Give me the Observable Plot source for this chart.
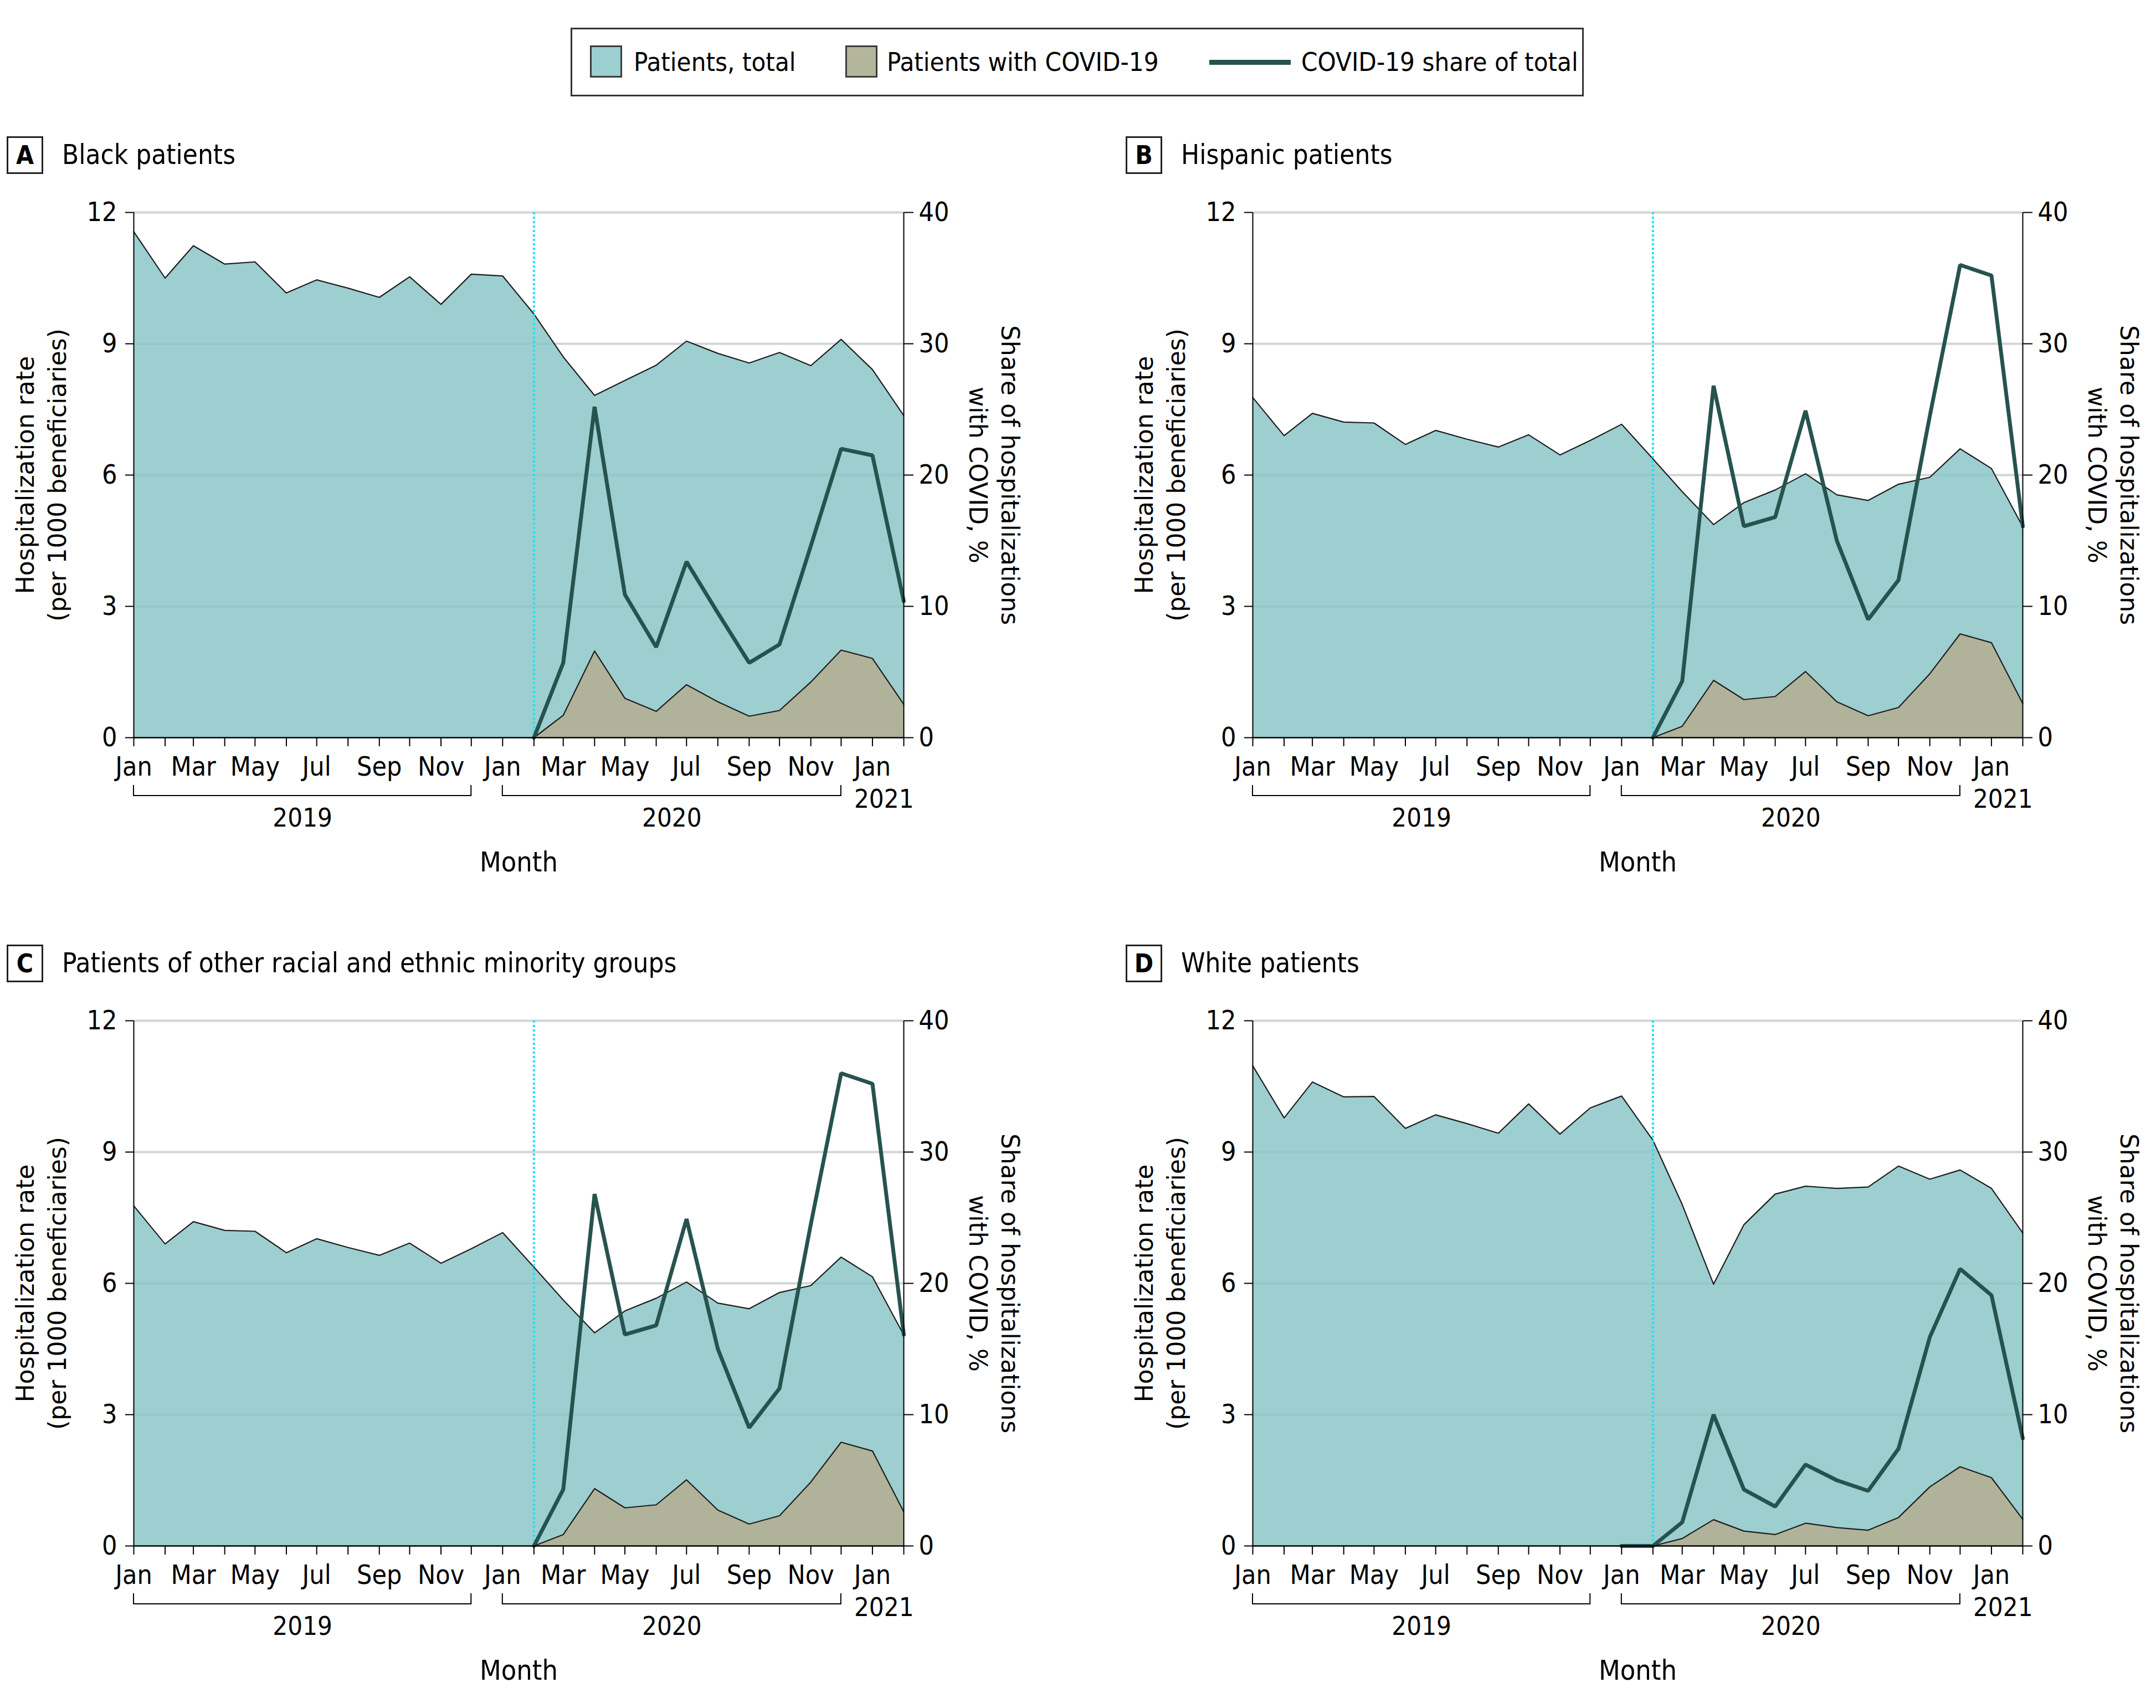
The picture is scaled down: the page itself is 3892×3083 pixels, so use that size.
<!DOCTYPE html>
<html><head><meta charset="utf-8">
<script src="https://cdn.jsdelivr.net/npm/d3@7"></script>
<script src="https://cdn.jsdelivr.net/npm/@observablehq/plot@0.6"></script>
<style>
html,body{margin:0;padding:0;background:#fff;}
body{width:3892px;height:3083px;position:relative;overflow:hidden;
  font-family:"Liberation Sans Narrow","DejaVu Sans Condensed","Liberation Sans",sans-serif;color:#000;}
.abs{position:absolute;}
.legend{left:1030px;top:50px;width:1823px;height:118px;border:3px solid #333;}
.sw{position:absolute;width:52px;height:52px;border:3px solid #3a3a3a;top:29px;}
.lt{position:absolute;top:0;line-height:118px;font-size:47px;white-space:nowrap;}
.ln{position:absolute;top:55px;height:9px;width:147px;background:#27534f;}
.pbox{position:absolute;width:60px;height:62px;border:3px solid #222;font-weight:bold;font-size:46px;line-height:62px;text-align:center;}
.ptitle{position:absolute;font-size:49px;line-height:68px;white-space:nowrap;}
.panel{position:absolute;}
</style></head>
<body>
<div class="abs legend">
  <div class="sw" style="left:32px;background:#9dced0"></div>
  <div class="lt" style="left:111px">Patients, total</div>
  <div class="sw" style="left:493px;background:#b4b69c"></div>
  <div class="lt" style="left:568px">Patients with COVID-19</div>
  <div class="ln" style="left:1150px"></div>
  <div class="lt" style="left:1316px">COVID-19 share of total</div>
</div>
<div id="chartA" class="panel" style="left:0;top:330px"></div>
<div id="chartB" class="panel" style="left:2020px;top:330px"></div>
<div id="chartC" class="panel" style="left:0;top:1789px"></div>
<div id="chartD" class="panel" style="left:2020px;top:1789px"></div>
<script>
// ---------- data ----------
const monthKeys = ["2019-01","2019-02","2019-03","2019-04","2019-05","2019-06","2019-07","2019-08","2019-09","2019-10","2019-11","2019-12",
  "2020-01","2020-02","2020-03","2020-04","2020-05","2020-06","2020-07","2020-08","2020-09","2020-10","2020-11","2020-12",
  "2021-01","2021-02"];
const monthAbbr = ["Jan","Feb","Mar","Apr","May","Jun","Jul","Aug","Sep","Oct","Nov","Dec"];
const leftTicks = [0, 3, 6, 9, 12];
const rightTicks = [0, 10, 20, 30, 40];
const yearSpans = [
  {label: "2019", start: "2019-01", end: "2019-12"},
  {label: "2020", start: "2020-01", end: "2020-12"}
];
const lastYearLabel = {label: "2021", at: "2021-01"};
const pandemicStart = "2020-02";
const panelLetters = ["A", "B", "C", "D"];
const panelTitles = ["Black patients", "Hispanic patients", "Patients of other racial and ethnic minority groups", "White patients"];
const leftTitle = "Hospitalization rate\n(per 1000 beneficiaries)";
const rightTitle = "Share of hospitalizations\nwith COVID, %";
const xTitle = "Month";

// A: Black patients
const blackTotal = [11.56,10.50,11.24,10.82,10.87,10.16,10.46,10.27,10.06,10.53,9.90,10.59,10.55,9.68,8.70,7.82,8.16,8.51,9.06,8.78,8.56,8.80,8.50,9.10,8.41,7.36];
const blackCovid = [null,null,null,null,null,null,null,null,null,null,null,null,null,0,0.51,1.98,0.90,0.60,1.21,0.82,0.49,0.62,1.27,2.00,1.81,0.76];
const blackShare = [null,null,null,null,null,null,null,null,null,null,null,null,null,0,5.7,25.2,10.9,6.9,13.4,9.5,5.7,7.1,14.6,22.0,21.5,10.4];
// B: Hispanic patients
const hispTotal = [7.77,6.90,7.41,7.21,7.19,6.70,7.02,6.82,6.64,6.92,6.46,6.79,7.16,6.37,5.62,4.87,5.37,5.66,6.03,5.55,5.42,5.79,5.95,6.60,6.15,4.82];
const hispCovid = [null,null,null,null,null,null,null,null,null,null,null,null,null,0,0.26,1.31,0.87,0.94,1.51,0.82,0.50,0.69,1.46,2.37,2.17,0.78];
const hispShare = [null,null,null,null,null,null,null,null,null,null,null,null,null,0,4.3,26.8,16.1,16.8,24.9,15.0,9.0,12.0,24.5,36.0,35.2,16.1];
// C: Other racial and ethnic minority groups
const otherTotal = [7.77,6.90,7.41,7.21,7.19,6.70,7.02,6.82,6.64,6.92,6.46,6.79,7.16,6.37,5.62,4.87,5.37,5.66,6.03,5.55,5.42,5.79,5.95,6.60,6.15,4.82];
const otherCovid = [null,null,null,null,null,null,null,null,null,null,null,null,null,0,0.26,1.31,0.87,0.94,1.51,0.82,0.50,0.69,1.46,2.37,2.17,0.78];
const otherShare = [null,null,null,null,null,null,null,null,null,null,null,null,null,0,4.3,26.8,16.1,16.8,24.9,15.0,9.0,12.0,24.5,36.0,35.2,16.1];
// D: White patients
const whiteTotal = [10.97,9.78,10.60,10.26,10.27,9.54,9.85,9.65,9.43,10.10,9.41,10.01,10.28,9.27,7.80,5.98,7.34,8.04,8.22,8.17,8.20,8.68,8.38,8.59,8.17,7.15];
const whiteCovid = [null,null,null,null,null,null,null,null,null,null,null,null,null,0,0.17,0.60,0.34,0.26,0.52,0.42,0.36,0.65,1.35,1.81,1.56,0.61];
const whiteShare = [null,null,null,null,null,null,null,null,null,null,null,null,0,0,1.8,10.0,4.3,3.0,6.2,5.0,4.2,7.4,15.9,21.1,19.1,8.2];

// ---------- style ----------
const TEAL = "#9dced0", KHAKI = "#b0b39a", LINE = "#27534f", EDGE = "#1e1e1e";
const TICK_FONT = '"Liberation Sans Narrow","DejaVu Sans Condensed","Liberation Sans",sans-serif';
const TITLE_FONT = '"DejaVu Sans",sans-serif';
const W = 1872, H = 1270, MT = 53, MB = 269, ML = 241, MR = 241;
const shareToRate = 12 / 40;

function panel(total, covid, share) {
  const data = monthKeys.map((k, i) => ({date: new Date(k), total: total[i], covid: covid[i], share: share[i]}));
  const dates = data.map(d => d.date);
  const covidData = data.filter(d => d.covid != null);
  const shareData = data.filter(d => d.share != null);
  const years = yearSpans.map(y => ({label: y.label,
    mid: new Date((new Date(y.start).getTime() + new Date(y.end).getTime()) / 2)}));
  const plot = Plot.plot({
    width: W, height: H, marginTop: MT, marginBottom: MB, marginLeft: ML, marginRight: MR,
    style: {fontFamily: TICK_FONT, fontSize: "48px", background: "transparent", color: "#000", overflow: "visible"},
    x: {type: "utc", domain: [dates[0], dates[dates.length - 1]]},
    y: {domain: [leftTicks[0], leftTicks[leftTicks.length - 1]]},
    marks: [
      Plot.ruleY(leftTicks.slice(1), {stroke: "#dcdcdc", strokeWidth: 4}),
      Plot.areaY(data, {x: "date", y: "total", fill: TEAL}),
      Plot.areaY(covidData, {x: "date", y: "covid", fill: KHAKI}),
      Plot.ruleY(leftTicks.slice(1), {stroke: "#4a7c7c", strokeOpacity: 0.07, strokeWidth: 4}),
      Plot.lineY(data, {x: "date", y: "total", stroke: EDGE, strokeWidth: 2.2}),
      Plot.lineY(covidData, {x: "date", y: "covid", stroke: EDGE, strokeWidth: 2.2}),
      Plot.ruleX([new Date(pandemicStart)], {stroke: "#1fe3f5", strokeWidth: 4, strokeDasharray: "4,4"}),
      Plot.lineY(shareData, {x: "date", y: d => d.share * shareToRate, stroke: LINE, strokeWidth: 7, strokeLinejoin: "miter"}),
      Plot.ruleX([dates[0], dates[dates.length - 1]], {stroke: "#000", strokeWidth: 2}),
      Plot.ruleY([0], {stroke: "#000", strokeWidth: 2.5}),
      Plot.axisY(leftTicks, {anchor: "left", tickSize: 15, tickPadding: 15, strokeWidth: 2, label: null,
        tickFormat: v => String(v)}),
      Plot.axisY(rightTicks.map(v => v * shareToRate), {anchor: "right", tickSize: 17, tickPadding: 10, strokeWidth: 2, label: null,
        tickFormat: v => String(Math.round(v / shareToRate))}),
      Plot.axisX(dates, {anchor: "bottom", tickSize: 16, tickPadding: 18, strokeWidth: 2, label: null,
        tickFormat: d => d.getUTCMonth() % 2 === 0 ? monthAbbr[d.getUTCMonth()] : ""}),
      Plot.text(years, {x: "mid", text: "label", frameAnchor: "bottom", lineAnchor: "middle", dy: 145, fontSize: 47}),
      Plot.text([lastYearLabel], {x: d => new Date(d.at), text: "label", frameAnchor: "bottom", lineAnchor: "middle", dy: 111, dx: -33, textAnchor: "start", fontSize: 47}),
      Plot.text([xTitle], {text: d => d, frameAnchor: "bottom", lineAnchor: "middle", dy: 225, fontSize: 50}),
      Plot.text([leftTitle], {text: d => d, frameAnchor: "left", textAnchor: "middle", lineAnchor: "middle", dx: -170, rotate: -90, fontFamily: TITLE_FONT, fontSize: 44, lineHeight: 1.32}),
      Plot.text([rightTitle], {text: d => d, frameAnchor: "right", textAnchor: "middle", lineAnchor: "middle", dx: 166, rotate: 90, fontFamily: TITLE_FONT, fontSize: 44, lineHeight: 1.32})
    ]
  });
  // year brackets drawn with the plot's own x scale
  const sx = plot.scale("x");
  const yb = H - MB;
  const g = d3.select(plot).append("g").attr("fill", "none").attr("stroke", "#000").attr("stroke-width", 2);
  yearSpans.forEach(y => {
    const a = sx.apply(new Date(y.start)), b = sx.apply(new Date(y.end));
    g.append("path").attr("d", `M${a},${yb + 86}V${yb + 105}H${b}V${yb + 86}`);
  });
  return plot;
}

const panels = [
  ["chartA", blackTotal, blackCovid, blackShare],
  ["chartB", hispTotal, hispCovid, hispShare],
  ["chartC", otherTotal, otherCovid, otherShare],
  ["chartD", whiteTotal, whiteCovid, whiteShare]
];
const tops = [246, 246, 1705, 1705], lefts = [12, 2032, 12, 2032];
panels.forEach(([id, t, c, s], i) => {
  document.getElementById(id).appendChild(panel(t, c, s));
  const box = document.createElement("div");
  box.className = "pbox"; box.textContent = panelLetters[i];
  box.style.left = lefts[i] + "px"; box.style.top = tops[i] + "px";
  document.body.appendChild(box);
  const tt = document.createElement("div");
  tt.className = "ptitle"; tt.textContent = panelTitles[i];
  tt.style.left = (lefts[i] + 100) + "px"; tt.style.top = tops[i] + "px";
  document.body.appendChild(tt);
});
</script>
</body></html>
